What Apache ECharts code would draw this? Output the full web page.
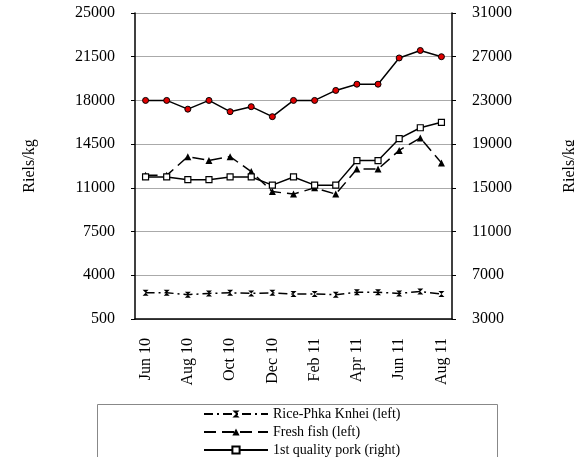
<!DOCTYPE html>
<html>
<head>
<meta charset="utf-8">
<script src="https://cdn.jsdelivr.net/npm/echarts@6/dist/echarts.min.js"></script>
<style>
  html, body { margin: 0; padding: 0; background: #fff; }
  #chart { width: 574px; height: 457px; }
</style>
</head>
<body>
<div id="chart"></div>
<script>
// months on the x axis
var months = ['Jun 10', 'Jul 10', 'Aug 10', 'Sep 10', 'Oct 10', 'Nov 10', 'Dec 10',
  'Jan 11', 'Feb 11', 'Mar 11', 'Apr 11', 'May 11', 'Jun 11', 'Jul 11', 'Aug 11']

// prices, riels/kg
var rice = [2600, 2600, 2450, 2550, 2600, 2550, 2600, 2500, 2500, 2450, 2650, 2650, 2550, 2700, 2500]
var fish = [12000, 12000, 13500, 13200, 13500, 12300, 10700, 10500, 11000, 10500, 12500, 12500, 14000, 15000, 13000]
var pork = [16000, 16000, 15750, 15750, 16000, 16000, 15250, 16000, 15250, 15250, 17500, 17500, 19500, 20500, 21000]
var series4 = [18000, 18000, 17300, 18000, 17100, 17500, 16700, 18000, 18000, 18800, 19300, 19300, 21400, 22000, 21500]

var leftTicks = { min: 500, max: 25000, interval: 3500 }
var rightTicks = { min: 3000, max: 31000, interval: 4000 }

var font = 'Liberation Serif'
var textStyle = { fontFamily: font, fontSize: 14, color: '#000' }
var axisText = { fontFamily: font, fontSize: 16, color: '#000' }

var myChart = echarts.init(document.getElementById('chart'))

var yAxisBase = function (ticks, pos) {
  return {
    type: 'value',
    position: pos,
    min: ticks.min,
    max: ticks.max,
    interval: ticks.interval,
    name: 'Riels/kg',
    nameLocation: 'middle',
    nameRotate: 90,
    nameGap: pos === 'left' ? 97 : 110,
    nameTextStyle: axisText,
    axisLine: { show: true, lineStyle: { color: '#000', width: 1.5 } },
    axisTick: { show: true, length: 4, lineStyle: { color: '#000' } },
    axisLabel: Object.assign({ margin: 20, formatter: function (v) { return String(v) } }, axisText),
    splitLine: { show: pos === 'left', lineStyle: { color: '#aaa', width: 1 } }
  }
}

var option = {
  animation: false,
  textStyle: textStyle,
  grid: { left: 135, right: 122, top: 13, bottom: 138, outerBoundsMode: 'none', containLabel: false },
  graphic: [{
    type: 'rect',
    left: 97,
    top: 404,
    shape: { width: 400, height: 70 },
    style: { fill: '#fff', stroke: '#888', lineWidth: 1 },
    z: 0
  }],
  legend: {
    data: ['Rice-Phka Knhei (left)', 'Fresh fish (left)', '1st quality pork (right)'],
    orient: 'vertical',
    left: 203,
    top: 407,
    height: 120,
    itemWidth: 64,
    itemHeight: 9,
    itemGap: 4,
    padding: 0,
    textStyle: textStyle,
    z: 5
  },
  xAxis: {
    type: 'category',
    data: months,
    boundaryGap: true,
    axisLine: { lineStyle: { color: '#000', width: 1.5 } },
    axisTick: { interval: 1, length: 4, lineStyle: { color: '#000' } },
    axisLabel: Object.assign({ interval: 1, rotate: 90, margin: 19 }, axisText)
  },
  yAxis: [yAxisBase(leftTicks, 'left'), yAxisBase(rightTicks, 'right')],
  series: [
    {
      name: 'Rice-Phka Knhei (left)',
      type: 'line',
      yAxisIndex: 0,
      data: rice,
      symbol: 'path://M0,0L10,0L5,5L10,10L0,10L5,5Z',
      symbolSize: 6,
      itemStyle: { color: '#000' },
      lineStyle: { color: '#000', width: 1.5, type: [9, 4, 2, 4] }
    },
    {
      name: 'Fresh fish (left)',
      type: 'line',
      yAxisIndex: 0,
      data: fish,
      symbol: 'triangle',
      symbolSize: 7,
      itemStyle: { color: '#000' },
      lineStyle: { color: '#000', width: 1.5, type: [12, 6] }
    },
    {
      name: '1st quality pork (right)',
      type: 'line',
      yAxisIndex: 1,
      data: pork,
      symbol: 'rect',
      symbolSize: 6,
      itemStyle: { color: '#fff', borderColor: '#000', borderWidth: 1.2 },
      lineStyle: { color: '#000', width: 1.5 }
    },
    {
      name: 'Series 4',
      type: 'line',
      yAxisIndex: 0,
      data: series4,
      symbol: 'circle',
      symbolSize: 6,
      itemStyle: { color: '#e00000', borderColor: '#000', borderWidth: 1 },
      lineStyle: { color: '#000', width: 1.5 }
    }
  ]
}

myChart.setOption(option)
</script>
</body>
</html>
